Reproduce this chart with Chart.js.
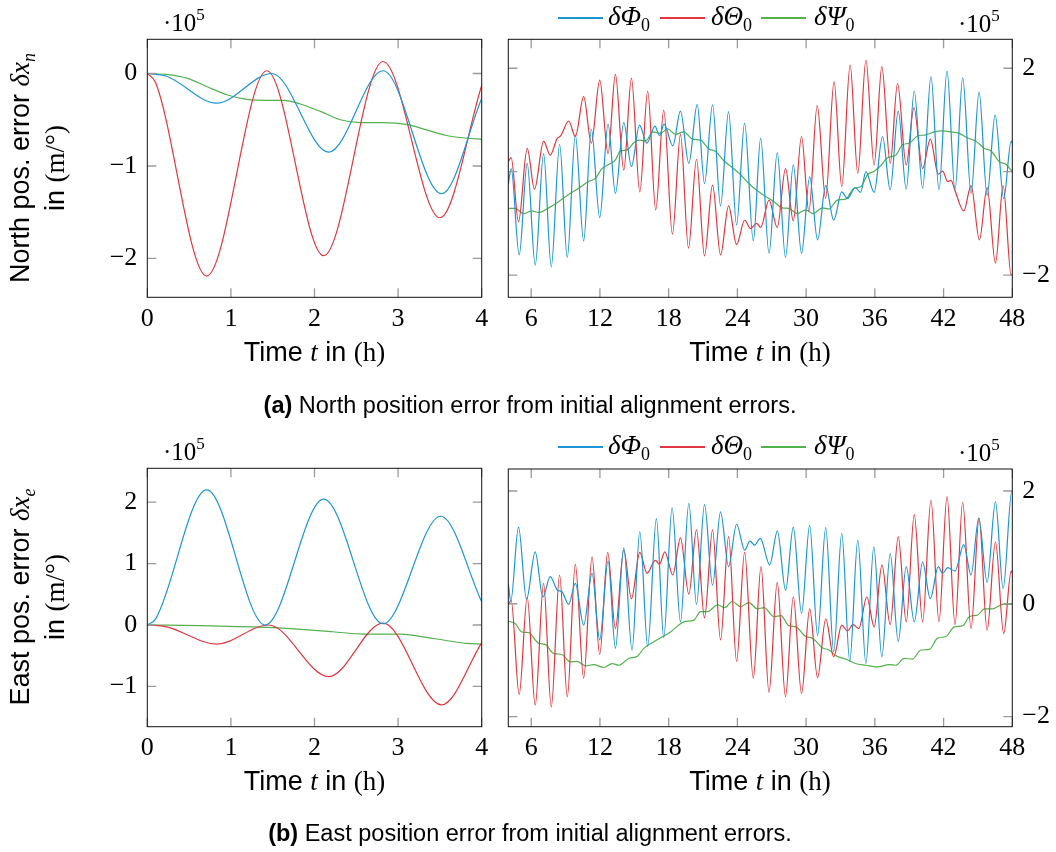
<!DOCTYPE html>
<html>
<head>
<meta charset="utf-8">
<script src="https://cdn.jsdelivr.net/npm/chart.js@4.4.1/dist/chart.umd.min.js"></script>
<style>
body{margin:0;background:#fff;}
#page{position:relative;width:1056px;height:852px;overflow:hidden;background:#fff;font-family:'Liberation Sans',Arial,sans-serif;color:#000;}
canvas{position:absolute;left:0;top:0;}
.t{position:absolute;white-space:nowrap;}
.m{font-family:'Liberation Serif','Times New Roman',serif;}
.i{font-style:italic;}
.ttl{font-size:27px;line-height:27px;transform:translateX(-50%);}
.cap{font-size:23.5px;line-height:23px;transform:translateX(-50%);}
.exp{font-size:25px;line-height:25px;}
.rot{font-size:27px;line-height:27px;transform:translate(-50%,-50%) rotate(-90deg);}
.leg{font-size:27px;line-height:27px;}
.ln{position:absolute;height:1.5px;}
</style>
</head>
<body>
<div id="page">
  <canvas id="nE" width="1056" height="852"></canvas>
  <canvas id="nL" width="1056" height="852"></canvas>
  <canvas id="eE" width="1056" height="852"></canvas>
  <canvas id="eL" width="1056" height="852"></canvas>
</div>
<script>
// ---- data (values in 1e5 m per degree, time in hours) ----
const seriesNames = ['\u03b4\u03a6', '\u03b4\u0398', '\u03b4\u03a8'];

const earlyTicks = [0, 1, 2, 3, 4];
const lateTicks = [6, 12, 18, 24, 30, 36, 42, 48];
const northEarlyYTicks = [-2, -1, 0];
const eastEarlyYTicks = [-1, 0, 1, 2];
const lateYTicks = [-2, 0, 2];

// north position error, first 4 h
const northEarlyPhi = [[0,0],[0.23,-0.03],[0.83,-0.32],[1.49,0.0],[2.17,-0.85],[2.82,0.03],[3.52,-1.30],[4.0,-0.27]];
const northEarlyTheta = [[0,0],[0.1,-0.1],[0.71,-2.19],[1.43,0.03],[2.11,-1.97],[2.82,0.13],[3.50,-1.56],[4.0,-0.13]];
const northEarlyPsi = [[0,0],[0.23,-0.01],[0.47,-0.05],[0.71,-0.14],[0.95,-0.23],[1.19,-0.28],[1.43,-0.29],[1.63,-0.29],
  [1.83,-0.33],[2.07,-0.41],[2.31,-0.5],[2.54,-0.53],[2.82,-0.53],[3.1,-0.55],[3.34,-0.61],[3.58,-0.67],[3.82,-0.70],[4.0,-0.71]];

// north position error, 4 h to 48 h
const northLatePhi = [[4.0,-0.25],[4.25,0.06],[4.95,-1.61],[5.65,0.16],[6.35,-1.81],[7.08,0.35],[7.75,-1.84],[8.48,0.53],
  [9.15,-1.66],[9.85,0.71],[10.58,-1.34],[11.25,0.82],[11.98,-0.89],[12.71,0.92],[13.35,-0.42],[14.08,0.95],[14.75,0.10],
  [15.45,0.90],[16.1,0.55],[16.8,0.88],[17.2,0.70],[17.6,0.92],[18.36,0.50],[19.03,1.17],[19.76,0.16],[20.49,1.30],
  [21.13,-0.23],[21.83,1.29],[22.53,-0.66],[23.23,1.16],[23.93,-1.03],[24.63,0.94],[25.39,-1.34],[26.03,0.65],[26.76,-1.58],
  [27.48,0.37],[28.2,-1.66],[28.88,0.13],[29.6,-1.58],[30.31,-0.10],[31.0,-1.32],[31.71,-0.27],[32.41,-0.94],[33.11,-0.39],
  [33.6,-0.52],[34.3,-0.31],[34.75,-0.40],[35.22,0.0],[35.94,-0.40],[36.67,0.68],[37.34,-0.35],[38.04,1.17],[38.74,-0.34],
  [39.44,1.56],[40.17,-0.32],[40.9,1.84],[41.6,-0.35],[42.3,1.95],[43.0,-0.35],[43.67,1.82],[44.4,-0.42],[45.1,1.54],
  [45.8,-0.46],[46.5,1.10],[47.25,-0.52],[47.9,0.59],[48.0,0.55]];
const northLateTheta = [[4.0,0.2],[4.25,0.27],[4.89,-0.97],[5.65,0.45],[6.29,-0.34],[7.08,0.59],[7.66,0.32],[8.24,0.63],
  [8.6,0.70],[9.27,0.98],[9.85,0.68],[10.58,1.45],[11.25,0.55],[11.98,1.77],[12.71,0.35],[13.35,1.88],[14.08,0.03],
  [14.75,1.81],[15.48,-0.39],[16.17,1.56],[16.87,-0.74],[17.57,1.19],[18.33,-1.21],[19.03,0.72],[19.73,-1.48],[20.43,0.24],
  [21.13,-1.63],[21.83,-0.26],[22.53,-1.61],[23.23,-0.66],[23.93,-1.41],[24.63,-0.94],[25.16,-1.10],[25.68,-1.0],
  [26.03,-1.08],[26.76,-0.55],[27.48,-1.08],[28.2,0.06],[28.88,-0.95],[29.6,0.68],[30.24,-0.77],[30.97,1.28],[31.7,-0.52],
  [32.44,1.74],[33.11,-0.29],[33.84,2.06],[34.51,-0.03],[35.22,2.16],[35.94,0.13],[36.61,2.03],[37.34,0.16],[37.98,1.71],
  [38.74,0.13],[39.41,1.24],[40.17,0.06],[40.84,0.63],[41.54,-0.05],[41.92,0.01],[42.36,-0.19],[42.65,-0.17],[43.0,-0.37],
  [43.76,-0.76],[44.4,-0.27],[45.13,-1.32],[45.8,-0.31],[46.53,-1.77],[47.2,-0.27],[47.9,-2.0],[48.0,-1.98]];
const northLatePsi = [[4.0,-0.71],[4.6,-0.71],[5.33,-0.81],[6.06,-0.76],[6.64,-0.79],[7.52,-0.70],[8.39,-0.58],[9.27,-0.44],
  [10.14,-0.32],[11.01,-0.19],[11.6,-0.13],[12.18,0.06],[12.76,0.14],[13.35,0.23],[13.78,0.40],[14.37,0.42],[15.0,0.57],
  [15.5,0.61],[15.97,0.59],[16.64,0.77],[17.28,0.74],[17.92,0.83],[18.59,0.72],[19.33,0.77],[20.06,0.63],[20.78,0.61],
  [21.51,0.44],[22.1,0.39],[22.82,0.21],[23.55,0.08],[24.28,-0.06],[25.0,-0.23],[25.74,-0.37],[26.47,-0.48],[27.2,-0.58],
  [27.93,-0.70],[28.5,-0.71],[29.24,-0.81],[29.96,-0.74],[30.6,-0.81],[31.42,-0.70],[32.0,-0.72],[32.72,-0.55],[33.45,-0.53],
  [34.18,-0.32],[34.77,-0.29],[35.36,-0.06],[35.94,0.01],[36.53,0.12],[37.1,0.27],[37.83,0.32],[38.42,0.52],[39.0,0.55],
  [39.73,0.69],[40.46,0.71],[41.19,0.77],[41.92,0.79],[42.65,0.77],[43.38,0.74],[44.1,0.65],[44.83,0.59],[45.56,0.45],
  [46.15,0.40],[46.88,0.19],[47.46,0.14],[48.0,0.0]];

// east position error, first 4 h
const eastEarlyPhi = [[0,0],[0.1,0.1],[0.71,2.20],[1.41,0.0],[2.11,2.05],[2.82,0.02],[3.51,1.77],[4.0,0.38]];
const eastEarlyTheta = [[0,0],[0.23,-0.03],[0.83,-0.31],[1.45,0.0],[2.17,-0.84],[2.82,0.03],[3.52,-1.30],[4.0,-0.29]];
const eastEarlyPsi = [[0,0],[0.63,-0.01],[1.43,-0.04],[1.83,-0.07],[2.22,-0.11],[2.62,-0.15],[3.02,-0.15],[3.42,-0.22],
  [3.82,-0.30],[4.0,-0.31]];

// east position error, 4 h to 48 h
const eastLatePhi = [[4.0,0.36],[4.22,0.05],[4.89,1.36],[5.59,0.08],[6.35,0.92],[7.02,0.12],[7.66,0.48],[8.3,0.24],
  [8.65,0.22],[9.27,-0.01],[9.85,0.36],[10.58,-0.38],[11.31,0.54],[11.98,-0.64],[12.71,0.76],[13.35,-0.79],[14.08,0.99],
  [14.8,-0.82],[15.48,1.28],[16.17,-0.76],[16.93,1.51],[17.57,-0.60],[18.3,1.70],[19.03,-0.32],[19.76,1.78],[20.43,-0.01],
  [21.13,1.76],[21.83,0.33],[22.53,1.63],[23.23,0.66],[23.93,1.41],[24.63,0.95],[25.1,1.11],[25.5,1.04],[26.0,1.16],
  [26.82,0.69],[27.49,1.29],[28.21,0.24],[28.88,1.36],[29.6,-0.17],[30.31,1.39],[31.0,-0.56],[31.71,1.35],[32.41,-0.85],
  [33.11,1.25],[33.81,-1.02],[34.51,1.13],[35.22,-1.06],[35.91,1.01],[36.61,-0.94],[37.34,0.89],[38.04,-0.67],[38.74,0.66],
  [39.44,-0.32],[40.17,0.74],[40.84,0.09],[41.54,0.66],[41.92,0.54],[42.36,0.64],[43.0,0.58],[43.76,1.05],[44.4,0.51],
  [45.07,1.52],[45.8,0.38],[46.53,1.81],[47.2,0.27],[47.96,2.0],[48.0,2.0]];
const eastLateTheta = [[4.0,-0.02],[4.25,0.06],[4.95,-1.61],[5.65,0.12],[6.35,-1.80],[7.08,0.36],[7.75,-1.83],[8.48,0.51],
  [9.15,-1.65],[9.85,0.70],[10.58,-1.32],[11.31,0.83],[11.98,-0.90],[12.68,0.91],[13.35,-0.44],[14.08,0.95],[14.75,0.09],
  [15.48,0.91],[16.11,0.54],[16.84,0.77],[17.2,0.70],[17.66,0.92],[18.36,0.51],[19.03,1.17],[19.76,0.17],[20.43,1.31],
  [21.13,-0.25],[21.83,1.31],[22.53,-0.64],[23.23,1.19],[23.93,-1.02],[24.63,0.91],[25.39,-1.32],[26.06,0.66],[26.76,-1.57],
  [27.48,0.38],[28.2,-1.65],[28.88,0.12],[29.6,-1.59],[30.31,-0.09],[31.0,-1.31],[31.71,-0.27],[32.41,-0.94],[33.11,-0.38],
  [33.6,-0.48],[34.1,-0.37],[34.6,-0.44],[35.3,0.12],[35.94,-0.41],[36.62,0.69],[37.34,-0.37],[38.04,1.19],[38.74,-0.32],
  [39.44,1.58],[40.17,-0.32],[40.9,1.84],[41.6,-0.32],[42.3,1.90],[43.0,-0.37],[43.67,1.80],[44.4,-0.44],[45.1,1.52],
  [45.8,-0.47],[46.53,1.10],[47.25,-0.53],[47.9,0.58],[48.0,0.54]];
const eastLatePsi = [[4.0,-0.31],[4.6,-0.35],[5.18,-0.50],[5.77,-0.51],[6.64,-0.70],[7.22,-0.72],[7.95,-0.88],[8.68,-0.90],
  [9.41,-1.03],[9.99,-1.02],[10.72,-1.10],[11.45,-1.08],[12.33,-1.13],[13.06,-1.06],[13.64,-1.09],[14.51,-0.97],[15.27,-0.93],
  [15.83,-0.79],[17.0,-0.64],[18.16,-0.50],[19.33,-0.32],[20.2,-0.29],[20.78,-0.14],[21.37,-0.14],[22.3,-0.02],[22.88,-0.07],
  [23.55,0.04],[24.28,-0.05],[25.0,0.02],[25.74,-0.09],[26.32,-0.07],[27.2,-0.23],[27.8,-0.21],[28.5,-0.39],[29.1,-0.41],
  [29.96,-0.58],[30.55,-0.61],[31.42,-0.78],[32.0,-0.82],[32.6,-0.92],[33.45,-0.98],[34.3,-1.06],[35.2,-1.09],[36.2,-1.12],
  [37.25,-1.08],[37.83,-1.09],[38.56,-0.97],[39.29,-0.98],[40.02,-0.82],[40.75,-0.81],[41.48,-0.61],[42.2,-0.58],
  [42.94,-0.41],[43.67,-0.39],[44.25,-0.23],[44.98,-0.20],[45.56,-0.09],[46.3,-0.09],[47.17,-0.01],[48.0,-0.01]];

// ---- styling ----
const colors = ['#1d95d6', '#e1363d', '#52b14c'];
const W = 1056, H = 852;
const X_AXIS_H = 44, Y_AXIS_W = 50;

function fmt(v){
    return v < 0 ? '\u2212' + Math.abs(v) : String(v);
}

// frame + inward gray tick marks, pgfplots style
const frameTicks = {
    id: 'frameTicks',
    afterDraw(chart){
        const ctx = chart.ctx;
        const a = chart.chartArea;
        const sx = chart.scales.x, sy = chart.scales.y;
        const len = 9;
        ctx.save();
        ctx.strokeStyle = '#9a9a9a';
        ctx.lineWidth = 1.3;
        ctx.beginPath();
        sx.ticks.forEach(t => {
            const px = sx.getPixelForValue(t.value);
            ctx.moveTo(px, a.top); ctx.lineTo(px, a.top + len);
            ctx.moveTo(px, a.bottom); ctx.lineTo(px, a.bottom - len);
        });
        sy.ticks.forEach(t => {
            const py = sy.getPixelForValue(t.value);
            ctx.moveTo(a.left, py); ctx.lineTo(a.left + len, py);
            ctx.moveTo(a.right, py); ctx.lineTo(a.right - len, py);
        });
        ctx.stroke();
        ctx.strokeStyle = '#111';
        ctx.lineWidth = 1;
        ctx.strokeRect(a.left, a.top, a.right - a.left, a.bottom - a.top);
        ctx.restore();
    }
};

function drawPanel(cfg){
    const [l, t, r, b] = cfg.box;
    const side = cfg.side;
    const pad = {
        top: t,
        bottom: H - b - X_AXIS_H,
        left: side === 'left' ? l - Y_AXIS_W : l,
        right: side === 'right' ? W - r - Y_AXIS_W : W - r
    };
    const tickFont = { family: "'Liberation Serif', 'Times New Roman', serif", size: 26 };

    const config = {
        type: 'line',
        data: {
            datasets: cfg.series.map((s, i) => ({
                label: seriesNames[i],
                data: s.map(([x, y]) => ({ x, y })),
                borderColor: colors[i],
                borderWidth: 1.2,
                pointRadius: 0,
                fill: false,
                cubicInterpolationMode: 'monotone'
            }))
        },
        options: {
            responsive: false,
            animation: false,
            devicePixelRatio: 1,
            layout: { padding: pad },
            plugins: { legend: { display: false }, tooltip: { enabled: false } },
            events: [],
            scales: {
                x: {
                    type: 'linear',
                    min: cfg.xr[0],
                    max: cfg.xr[1],
                    grid: { display: false, drawTicks: false },
                    border: { display: false },
                    afterBuildTicks: (s) => { s.ticks = cfg.xt.map(v => ({ value: v })); },
                    afterFit: (s) => { s.height = X_AXIS_H; s.paddingLeft = 0; s.paddingRight = 0; },
                    ticks: {
                        autoSkip: false, maxRotation: 0, padding: 6,
                        color: '#000', font: tickFont,
                        callback: (v) => fmt(v)
                    }
                },
                y: {
                    type: 'linear',
                    position: side,
                    min: cfg.yr[0],
                    max: cfg.yr[1],
                    grid: { display: false, drawTicks: false },
                    border: { display: false },
                    afterBuildTicks: (s) => { s.ticks = cfg.yt.map(v => ({ value: v })); },
                    afterFit: (s) => { s.width = Y_AXIS_W; s.paddingTop = 0; s.paddingBottom = 0; },
                    ticks: {
                        padding: 10,
                        color: '#000', font: tickFont,
                        callback: (v) => fmt(v)
                    }
                }
            }
        },
        plugins: [frameTicks]
    };
    new Chart(document.getElementById(cfg.id), config);
}

drawPanel({ id: 'nE', box: [147.3, 39.3, 481.7, 297.3], xr: [0, 4], yr: [-2.42, 0.37],
    xt: earlyTicks, yt: northEarlyYTicks, side: 'left', series: [northEarlyPhi, northEarlyTheta, northEarlyPsi] });
drawPanel({ id: 'nL', box: [508.3, 39.3, 1012.3, 297.3], xr: [4, 48], yr: [-2.43, 2.56],
    xt: lateTicks, yt: lateYTicks, side: 'right', series: [northLatePhi, northLateTheta, northLatePsi] });
drawPanel({ id: 'eE', box: [147.3, 468.3, 481.7, 726.7], xr: [0, 4], yr: [-1.655, 2.55],
    xt: earlyTicks, yt: eastEarlyYTicks, side: 'left', series: [eastEarlyPhi, eastEarlyTheta, eastEarlyPsi] });
drawPanel({ id: 'eL', box: [508.3, 469, 1012.3, 726.7], xr: [4, 48], yr: [-2.18, 2.39],
    xt: lateTicks, yt: lateYTicks, side: 'right', series: [eastLatePhi, eastLateTheta, eastLatePsi] });

// ---- text overlays ----
const page = document.getElementById('page');
function addText(cls, html, left, top){
    const d = document.createElement('div');
    d.className = 't ' + cls;
    d.innerHTML = html;
    d.style.left = left + 'px';
    d.style.top = top + 'px';
    page.appendChild(d);
    return d;
}
function addLine(left, top, width, color){
    const d = document.createElement('div');
    d.className = 'ln';
    d.style.left = left + 'px';
    d.style.top = top + 'px';
    d.style.width = width + 'px';
    d.style.background = color;
    page.appendChild(d);
}

const timeTitle = 'Time <span class="m i">t</span> in <span class="m">(h)</span>';
const expo = '<span class="m">\u00b710<span style="font-size:17px;position:relative;top:-11px">5</span></span>';
const unitLine = 'in <span class="m">(m/\u00b0)</span>';
const sub = (s) => '<span class="m" style="font-size:18px;font-style:normal;position:relative;top:6px">' + s + '</span>';

[0, 429].forEach((dy, row) => {
    addText('ttl', timeTitle, 314.5, 339 + dy);
    addText('ttl', timeTitle, 760, 339 + dy);
    addText('exp', expo, 163, 10 + dy);
    addText('exp', expo, 958, 11 + dy);

    const legX = [[558, 608], [660, 711], [761, 814]];
    legX.forEach(([lx, tx], i) => {
        addLine(lx, 17 + dy, 45, colors[i]);
        addText('leg', '<span class="m i">' + seriesNames[i] + '</span>' + sub('0'), tx, 3 + dy);
    });

    const first = row === 0
        ? 'North pos. error <span class="m i">\u03b4x</span>' + '<span class="m i" style="font-size:18px;position:relative;top:6px">n</span>'
        : 'East pos. error <span class="m i">\u03b4x</span>' + '<span class="m i" style="font-size:18px;position:relative;top:6px">e</span>';
    addText('rot', first, 21.5, 168 + dy);
    addText('rot', unitLine, 55, 168 + dy);
});

addText('cap', '<b>(a)</b> North position error from initial alignment errors.', 530, 394);
addText('cap', '<b>(b)</b> East position error from initial alignment errors.', 530, 822);
</script>
</body>
</html>
